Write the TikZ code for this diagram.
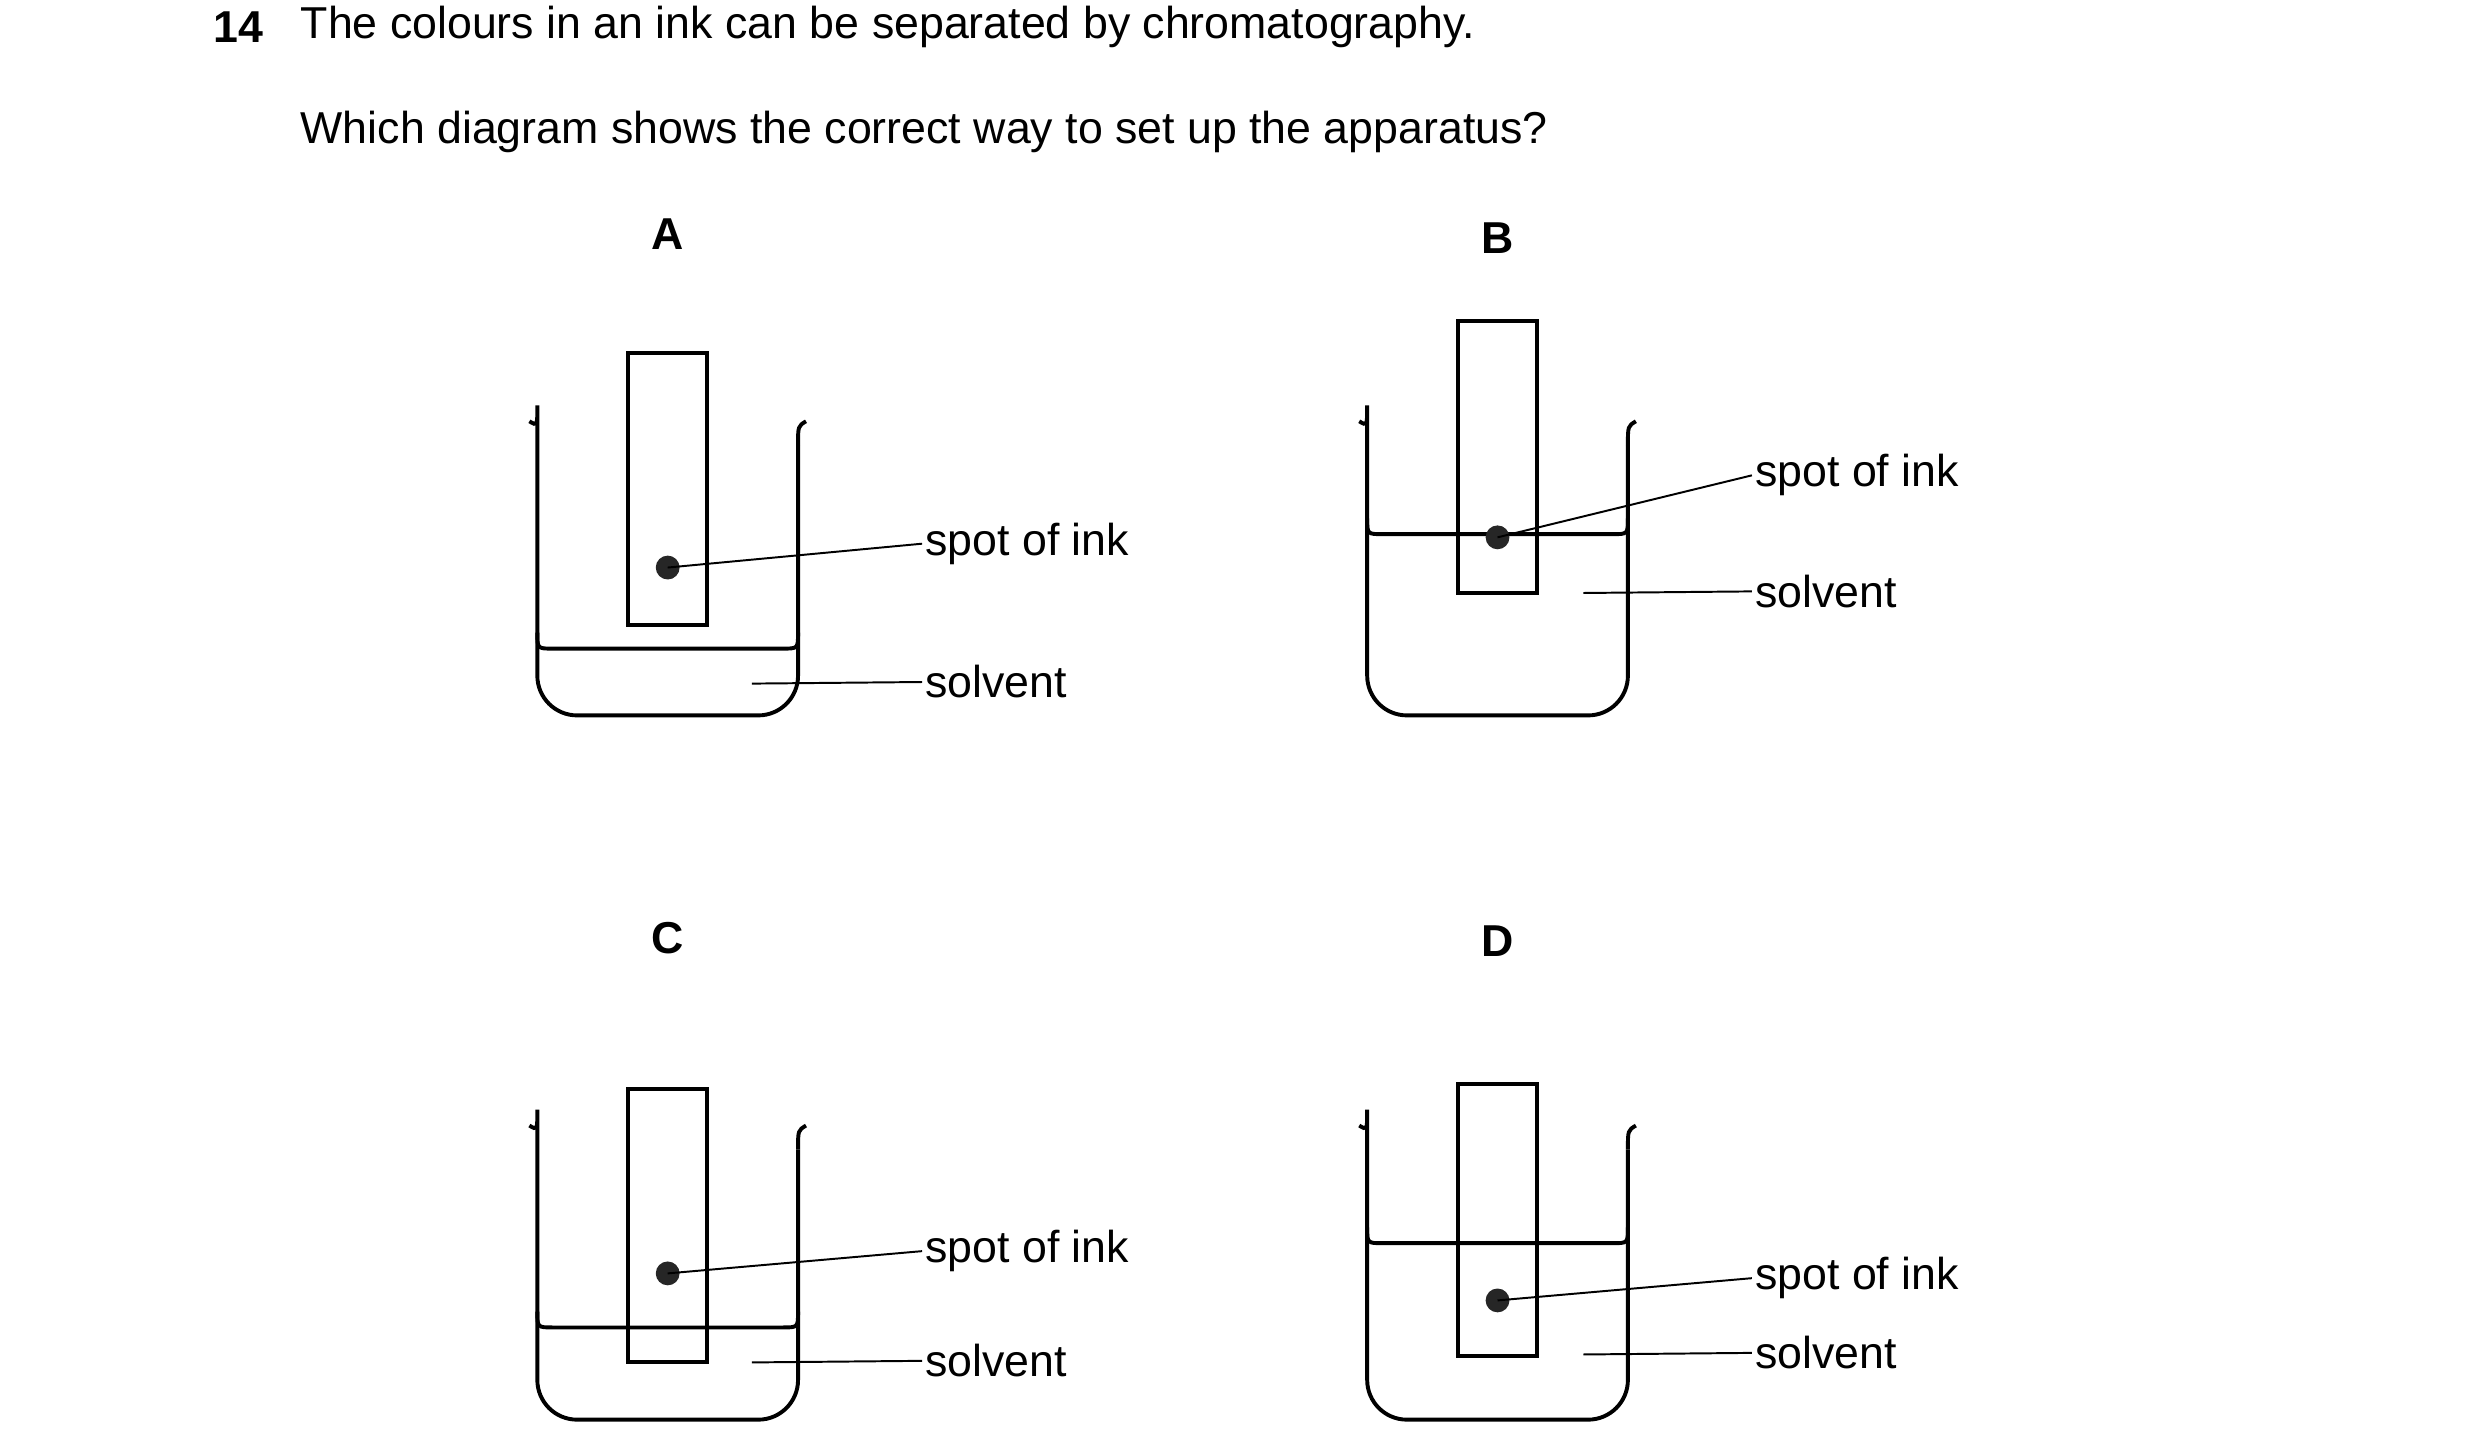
\documentclass[tikz,border=0pt]{standalone}
\usepackage{fontspec}
\setmainfont{Liberation Sans}
\begin{document}
\begin{tikzpicture}[x=0.02cm,y=-0.02cm,
  app/.style={line width=1.4pt},
  lead/.style={line width=0.7pt},
  lbl/.style={anchor=west,font=\fontsize{16}{18}\selectfont,inner sep=1pt},
  letter/.style={font=\bfseries\fontsize{16}{18}\selectfont},
  spot/.style={circle,fill=black!85,inner sep=0pt,minimum size=0.3cm}]
\useasboundingbox (0,0) rectangle (1560,914);
\newcommand{\mybeaker}[3]{% #1 left x, #2 top y, #3 solvent y
  \draw[app,rounded corners=0.5cm] (#1-5,#2) .. controls (#1,#2+3) .. (#1,#2+15) -- (#1,#2+185) -- (#1+164,#2+185) -- (#1+164,#2+15);
  \draw[app] (#1+164,#2+15) .. controls (#1+164,#2+3) .. (#1+169,#2);
  \draw[app] (#1,#3-10) .. controls (#1,#3) .. (#1+10,#3) -- (#1+154,#3) .. controls (#1+164,#3) .. (#1+164,#3-10);
}
\node[anchor=west,font=\bfseries\fontsize{16}{18}\selectfont] (q) at (128,17) {14};
\node[anchor=west,font=\fontsize{16}{18}\selectfont] (t1) at (183,17) {The colours in an ink can be separated by chromatography.};
\node[anchor=west,font=\fontsize{16}{18}\selectfont] (t2) at (183,83) {Which diagram shows the correct way to set up the apparatus?};
% A
\node[letter] (la) at (420,147) {A};
\mybeaker{338}{265}{408}
\draw[app,fill=white] (395,222) rectangle (445,393);
\node[spot] (sa) at (420,357) {};
\node[lbl] (ta) at (580,342) {spot of ink};
\coordinate (pa) at (473,430);
\node[lbl] (ua) at (580,429) {solvent};
\draw[lead] (sa.center) -- (ta.west);
\draw[lead] (pa) -- (ua.west);
% B
\node[letter] (lb) at (942,150) {B};
\mybeaker{860}{265}{336}
\draw[app] (917,202) rectangle (967,373);
\node[spot] (sb) at (942,338) {};
\node[lbl] (tb) at (1102,299) {spot of ink};
\coordinate (pb) at (996,373);
\node[lbl] (ub) at (1102,372) {solvent};
\draw[lead] (sb.center) -- (tb.west);
\draw[lead] (pb) -- (ub.west);
% C
\node[letter] (lc) at (420,590) {C};
\mybeaker{338}{708}{835}
\draw[app] (395,685) rectangle (445,857);
\node[spot] (sc) at (420,801) {};
\node[lbl] (tc) at (580,787) {spot of ink};
\coordinate (pc) at (473,857);
\node[lbl] (uc) at (580,856) {solvent};
\draw[lead] (sc.center) -- (tc.west);
\draw[lead] (pc) -- (uc.west);
% D
\node[letter] (ld) at (942,592) {D};
\mybeaker{860}{708}{782}
\draw[app] (917,682) rectangle (967,853);
\node[spot] (sd) at (942,818) {};
\node[lbl] (td) at (1102,804) {spot of ink};
\coordinate (pd) at (996,852);
\node[lbl] (ud) at (1102,851) {solvent};
\draw[lead] (sd.center) -- (td.west);
\draw[lead] (pd) -- (ud.west);
\end{tikzpicture}
\end{document}
